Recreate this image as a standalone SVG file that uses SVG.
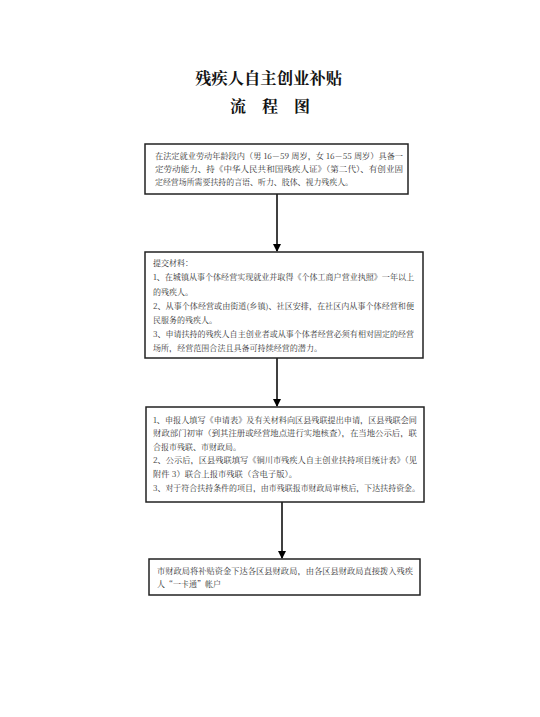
<svg xmlns="http://www.w3.org/2000/svg" width="540" height="717" viewBox="0 0 540 717">
<defs>
<style>
.box{fill:#fff;stroke:#222;stroke-width:1.5}
.t{font-family:"Noto Serif CJK SC","Noto Sans CJK SC",serif;font-size:8px;fill:#333}
.title{font-family:"Noto Serif CJK SC","Noto Sans CJK SC",serif;font-size:16px;font-weight:bold;fill:#111}
.conn{stroke:#000;stroke-width:1.5;fill:none}
</style>
<marker id="arr" markerWidth="8" markerHeight="8" refX="7" refY="4" orient="auto" markerUnits="userSpaceOnUse">
<path d="M0,0 L8,4 L0,8 Z" fill="#000"/>
</marker>
</defs>
<rect width="540" height="717" fill="#fff"/>
<g id="title">
<text class="title" x="195" y="84" textLength="147" lengthAdjust="spacingAndGlyphs">残疾人自主创业补贴</text>
<text class="title" x="230" y="112" textLength="80" lengthAdjust="spacing">流程图</text>
</g>
<g id="connectors">
<line class="conn" x1="277" y1="194" x2="277" y2="251" marker-end="url(#arr)"/>
<line class="conn" x1="277" y1="358" x2="277" y2="406" marker-end="url(#arr)"/>
<line class="conn" x1="282" y1="502" x2="282" y2="558" marker-end="url(#arr)"/>
</g>
<g id="node1">
<rect class="box" x="145" y="144" width="263" height="50"/>
<text class="t" x="155" y="159" textLength="248" lengthAdjust="spacingAndGlyphs">在法定就业劳动年龄段内（男 16－59 周岁，女 16－55 周岁）具备一</text>
<text class="t" x="155" y="172" textLength="248" lengthAdjust="spacingAndGlyphs">定劳动能力、持《中华人民共和国残疾人证》（第二代）、有创业固</text>
<text class="t" x="155" y="185" textLength="198" lengthAdjust="spacingAndGlyphs">定经营场所需要扶持的言语、听力、肢体、视力残疾人。</text>
</g>
<g id="node2">
<rect class="box" x="145" y="252" width="278" height="106"/>
<text class="t" x="153" y="266">提交材料：</text>
<text class="t" x="153" y="280" textLength="261" lengthAdjust="spacingAndGlyphs">1、在城镇从事个体经营实现就业并取得《个体工商户营业执照》一年以上</text>
<text class="t" x="153" y="295">的残疾人。</text>
<text class="t" x="153" y="309" textLength="261" lengthAdjust="spacingAndGlyphs">2、从事个体经营或由街道(乡镇)、社区安排，在社区内从事个体经营和便</text>
<text class="t" x="153" y="323">民服务的残疾人。</text>
<text class="t" x="153" y="337" textLength="261" lengthAdjust="spacingAndGlyphs">3、申请扶持的残疾人自主创业者或从事个体者经营必须有相对固定的经营</text>
<text class="t" x="153" y="351" textLength="169" lengthAdjust="spacingAndGlyphs">场所，经营范围合法且具备可持续经营的潜力。</text>
</g>
<g id="node3">
<rect class="box" x="146" y="407" width="278" height="95"/>
<text class="t" x="153" y="423" textLength="264" lengthAdjust="spacingAndGlyphs">1、申报人填写《申请表》及有关材料向区县残联提出申请，区县残联会同</text>
<text class="t" x="153" y="436" textLength="264" lengthAdjust="spacingAndGlyphs">财政部门初审（到其注册或经营地点进行实地核查），在当地公示后，联</text>
<text class="t" x="153" y="450">合报市残联、市财政局。</text>
<text class="t" x="153" y="463" textLength="264" lengthAdjust="spacingAndGlyphs">2、公示后，区县残联填写《铜川市残疾人自主创业扶持项目统计表》（见</text>
<text class="t" x="153" y="477" textLength="144" lengthAdjust="spacingAndGlyphs">附件 3）联合上报市残联（含电子版）。</text>
<text class="t" x="153" y="491" textLength="267" lengthAdjust="spacingAndGlyphs">3、对于符合扶持条件的项目，由市残联报市财政局审核后，下达扶持资金。</text>
</g>
<g id="node4">
<rect class="box" x="149" y="559" width="271" height="36"/>
<text class="t" x="157" y="574" textLength="256" lengthAdjust="spacingAndGlyphs">市财政局将补贴资金下达各区县财政局，由各区县财政局直接拨入残疾</text>
<text class="t" x="157" y="587">人“一卡通”帐户</text>
</g>
</svg>
